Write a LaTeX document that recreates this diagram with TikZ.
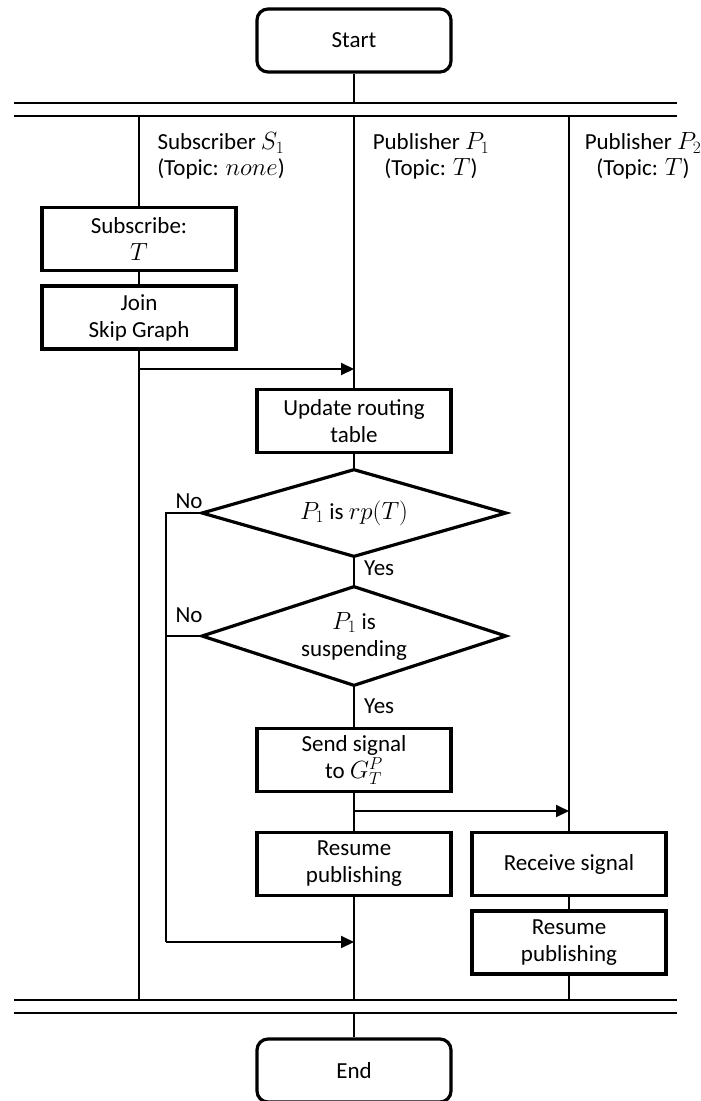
\documentclass[tikz,border=0pt]{standalone}
\usepackage{fontspec}
\setmainfont{Carlito}
\usetikzlibrary{shapes.geometric,arrows.meta}

\tikzset{
  x=1pt, y=-1pt,
  txt/.style={font=\fontsize{23}{27}\selectfont, align=center, inner sep=0pt},
  headtxt/.style={txt, font=\fontsize{23}{25.5}\selectfont},
  procbox/.style={txt, draw, fill=white, line width=3.2pt, minimum width=194pt, minimum height=63pt},
  termbox/.style={procbox, rounded corners=11pt},
  decision/.style={txt, draw, fill=white, line width=3.2pt, shape=diamond, aspect=3.4},
  lane/.style={line width=1.5pt},
  rail/.style={line width=2pt},
  link/.style={line width=1.6pt},
  msg/.style={line width=2pt, -{Triangle[length=13pt,width=12pt]}},
}

\begin{document}
\begin{tikzpicture}
\useasboundingbox (0,0) rectangle (701,1101);

% rails at top and bottom of the lanes
\coordinate (railTopL1) at (14,103);   \coordinate (railTopR1) at (677,103);
\coordinate (railTopL2) at (14,116);   \coordinate (railTopR2) at (677,116);
\coordinate (railBotL1) at (14,1000);  \coordinate (railBotR1) at (677,1000);
\coordinate (railBotL2) at (14,1013);  \coordinate (railBotR2) at (677,1013);
\draw[rail] (railTopL1) -- (railTopR1);
\draw[rail] (railTopL2) -- (railTopR2);
\draw[rail] (railBotL1) -- (railBotR1);
\draw[rail] (railBotL2) -- (railBotR2);

% lifelines of the three participants
\coordinate (subTop) at (139,116);  \coordinate (subBot) at (139,1000);
\coordinate (pubATop) at (354,116); \coordinate (pubABot) at (354,1000);
\coordinate (pubBTop) at (569,116); \coordinate (pubBBot) at (569,1000);
\draw[lane] (subTop) -- (subBot);
\draw[lane] (pubATop) -- (pubABot);
\draw[lane] (pubBTop) -- (pubBBot);

% participant headers
\node[headtxt] (hSub) at (221,156) {Subscriber $S_1$\\(Topic: $none$)};
\node[headtxt] (hPubA) at (431,156) {Publisher $P_1$\\(Topic: $T$)};
\node[headtxt] (hPubB) at (643,156) {Publisher $P_2$\\(Topic: $T$)};

% start / end
\node[termbox] (start) at (354,40.5) {Start};
\node[termbox] (end) at (354,1070.5) {End};
\coordinate (startRail) at (354,103);
\coordinate (endRail) at (354,1013);
\draw[link] (start.south) -- (startRail);
\draw[link] (endRail) -- (end.north);

% subscriber actions
\node[procbox] (subscribe) at (139,239) {Subscribe:\\$T$};
\node[procbox] (join) at (139,317.5) {Join\\Skip Graph};
\coordinate (joinMsgA) at (139,369);
\coordinate (joinMsgB) at (354,369);
\draw[msg] (joinMsgA) -- (joinMsgB);

% publisher P1
\node[procbox] (update) at (354,421) {Update routing\\table};
\node[decision, minimum width=305pt, minimum height=88pt] (isrp) at (354,513) {$P_1$ is $rp(T)$};
\node[decision, minimum width=305pt, minimum height=100pt] (susp) at (354,636) {$P_1$ is\\suspending};
\node[procbox] (send) at (354,760) {Send signal\\to $G_T^P$};
\node[procbox] (resumeA) at (354,864) {Resume\\publishing};

\draw[link] (update) -- (isrp);
\draw[link] (isrp) -- (susp);
\draw[link] (susp) -- (send);
\draw[link] (send) -- (resumeA);

\node[txt, anchor=west] (yesA) at (364,568) {Yes};
\node[txt, anchor=west] (yesB) at (364,706) {Yes};
\node[txt] (noA) at (189,501) {No};
\node[txt] (noB) at (189,615) {No};

% "No" branches rejoin P1's lifeline
\coordinate (noTurnA) at (166,513);
\coordinate (noTurnB) at (166,636);
\coordinate (noBottom) at (166,942);
\coordinate (noJoin) at (354,942);
\draw[link] (isrp.west) -- (noTurnA) -- (noBottom);
\draw[link] (susp.west) -- (noTurnB);
\draw[msg] (noBottom) -- (noJoin);

% signal to publisher P2
\coordinate (sigA) at (354,811);
\coordinate (sigB) at (569,811);
\draw[msg] (sigA) -- (sigB);

\node[procbox] (receive) at (569,864) {Receive signal};
\node[procbox] (resumeB) at (569,942.5) {Resume\\publishing};
\draw[link] (receive) -- (resumeB);
\end{tikzpicture}
\end{document}
